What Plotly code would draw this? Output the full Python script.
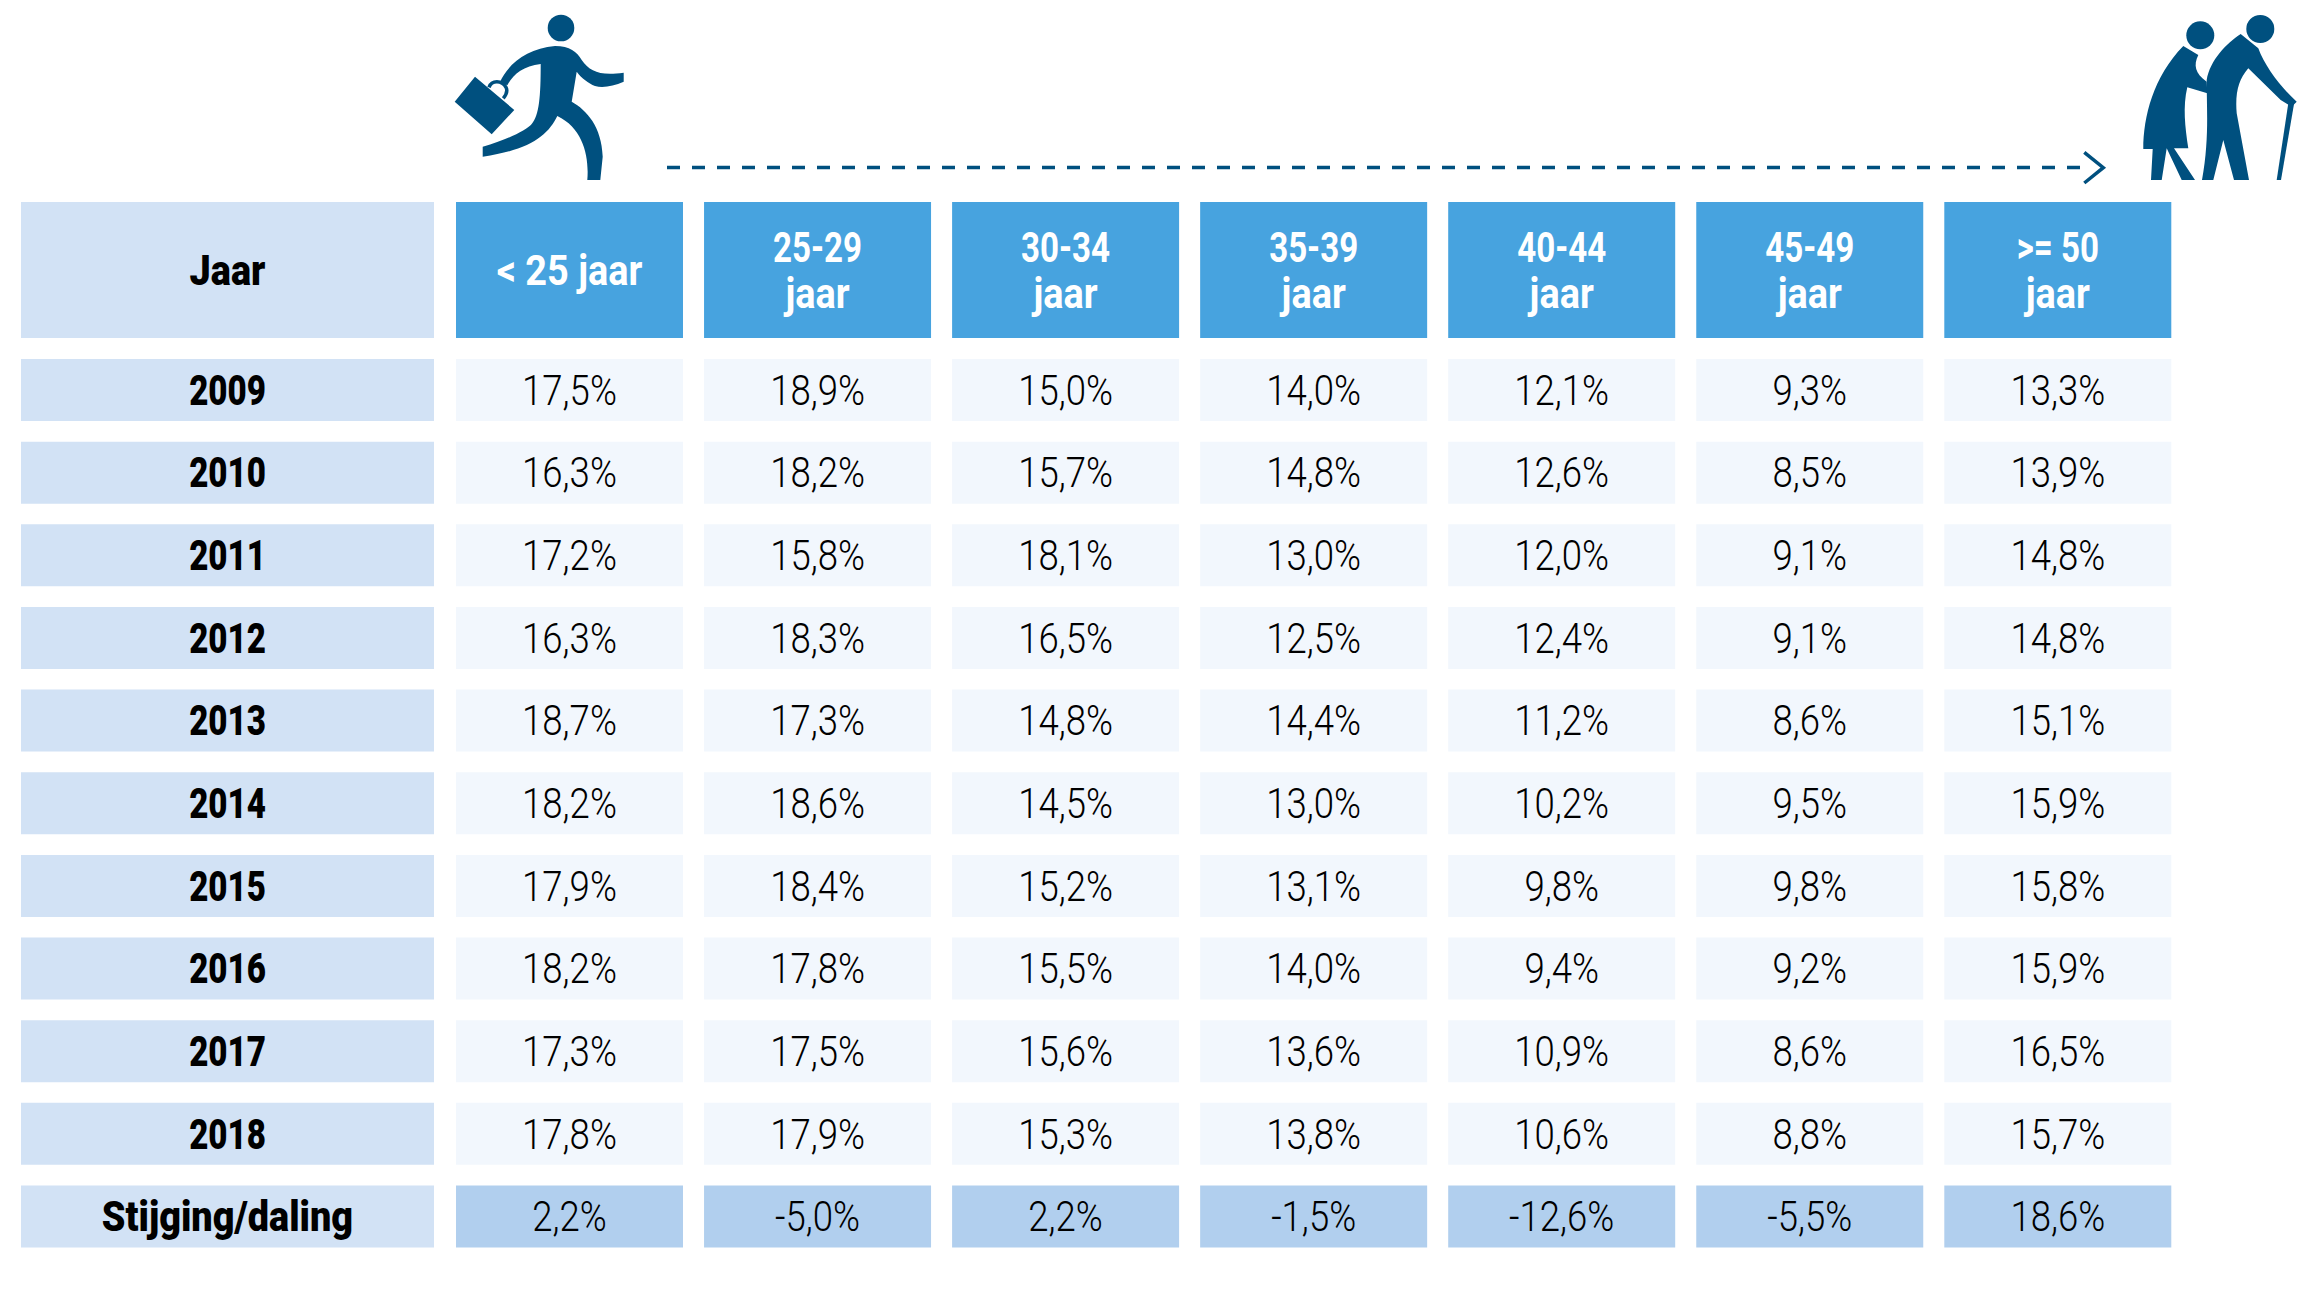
import re
import plotly.graph_objects as go

# table content
age_groups = ["< 25 jaar", "25-29<br>jaar", "30-34<br>jaar", "35-39<br>jaar", "40-44<br>jaar", "45-49<br>jaar", ">= 50<br>jaar"]
years = ["2009", "2010", "2011", "2012", "2013", "2014", "2015", "2016", "2017", "2018"]
under_25 = [17.5, 16.3, 17.2, 16.3, 18.7, 18.2, 17.9, 18.2, 17.3, 17.8]
age_25_29 = [18.9, 18.2, 15.8, 18.3, 17.3, 18.6, 18.4, 17.8, 17.5, 17.9]
age_30_34 = [15.0, 15.7, 18.1, 16.5, 14.8, 14.5, 15.2, 15.5, 15.6, 15.3]
age_35_39 = [14.0, 14.8, 13.0, 12.5, 14.4, 13.0, 13.1, 14.0, 13.6, 13.8]
age_40_44 = [12.1, 12.6, 12.0, 12.4, 11.2, 10.2, 9.8, 9.4, 10.9, 10.6]
age_45_49 = [9.3, 8.5, 9.1, 9.1, 8.6, 9.5, 9.8, 9.2, 8.6, 8.8]
over_50 = [13.3, 13.9, 14.8, 14.8, 15.1, 15.9, 15.8, 15.9, 16.5, 15.7]
change = [2.2, -5.0, 2.2, -1.5, -12.6, -5.5, 18.6]

columns = [under_25, age_25_29, age_30_34, age_35_39, age_40_44, age_45_49, over_50]

W, H = 2308, 1301
PAGE_MARGIN = 8  # browser body margin, the axes below stay in page pixels
NAVY = "#00507f"
LABEL_BG = "#d2e2f5"
HEAD_BG = "#47a3df"
CELL_BG = "#f2f7fd"
CHANGE_BG = "#b1cfee"
FONT = "Roboto"


def pct(v):
    return f"{v:.1f}%".replace(".", ",")


label_x, label_w = 21, 413
col_x0, col_w, col_step = 456, 227, 248.05
head_y, head_h = 202, 136
row_y0, row_h, row_step = 359, 62, 82.65
head_line_gap = 23
text_drop = 4

col_centers = [col_x0 + col_w / 2 + i * col_step for i in range(len(columns))]
label_center = label_x + label_w / 2
row_tops = [row_y0 + i * row_step for i in range(len(years) + 1)]
row_mids = [t + row_h / 2 + text_drop for t in row_tops]
head_mid = head_y + head_h / 2 + text_drop

fig = go.Figure()


def add_cells(xs, tops, width, height, color):
    fig.add_trace(go.Bar(x=xs, y=[height] * len(xs), base=tops, width=width,
                         marker=dict(color=color, line=dict(width=0)), hoverinfo="skip"))


def add_text(xs, ys, texts, color, size, weight):
    fig.add_trace(go.Scatter(x=xs, y=ys, text=texts, mode="text", hoverinfo="skip",
                             textposition="middle center",
                             textfont=dict(family=FONT, size=size, color=color, weight=weight)))


add_cells([label_center], [head_y], label_w, head_h, LABEL_BG)
add_cells([label_center] * len(row_tops), [t for t in row_tops], label_w, row_h, LABEL_BG)
add_cells(col_centers, [head_y] * len(col_centers), col_w, head_h, HEAD_BG)
for cx in col_centers:
    add_cells([cx] * len(years), row_tops[:-1], col_w, row_h, CELL_BG)
add_cells(col_centers, [row_tops[-1]] * len(col_centers), col_w, row_h, CHANGE_BG)

add_text([label_center], [head_mid], ["Jaar"], "#000000", 43, 900)
add_text([label_center] * len(years), row_mids[:-1], years, "#000000", 43, 900)
add_text([label_center], [row_mids[-1]], ["Stijging/daling"], "#000000", 43, 900)

# header cells: split the two line labels so the line gap can be tighter than plotly's
for cx, label in zip(col_centers, age_groups):
    lines = label.split("<br>")
    ys = [head_mid] if len(lines) == 1 else [head_mid - head_line_gap, head_mid + head_line_gap]
    add_text([cx] * len(lines), ys, lines, "#ffffff", 43, 700)

for cx, vals in zip(col_centers, columns):
    add_text([cx] * len(vals), row_mids[:-1], [pct(v) for v in vals], "#000000", 43, 300)
add_text(col_centers, [row_mids[-1]] * len(col_centers), [pct(v) for v in change], "#000000", 43, 300)


def icon_path(d, ox, oy):
    # icon outlines were traced at 3x, bring them back to page pixels
    out = []
    is_x = True
    for tok in re.findall(r"[A-Z]|-?\d+\.?\d*", d):
        if tok.isalpha():
            out.append(tok)
            is_x = True
        else:
            out.append(f"{float(tok) / 3 + (ox if is_x else oy):.1f}")
            is_x = not is_x
    return " ".join(out)


runner = ("M611,218 L611,245 C580,258 550,265 525,258 C505,250 485,235 470,215 L455,305 "
          "C500,330 545,380 548,470 L541,540 L502,540 C508,470 490,385 412,348 "
          "C385,405 330,450 188,470 L188,440 C260,420 320,390 335,372 C358,345 362,290 362,192 "
          "C310,198 280,222 262,256 L240,246 C262,195 320,145 405,138 C450,138 470,155 485,180 "
          "C510,215 540,228 611,218 Z "
          "M165,230 L283,330 L215,403 L104,305 Z")
handle = "M207,262 C215,240 245,240 258,262 C265,275 258,285 250,295"
woman = ("M400,138 L445,165 C430,195 435,220 470,245 L472,280 L412,262 C398,320 405,380 415,445 L372,445 "
         "L435,540 L395,540 L350,445 L335,540 L303,540 L308,447 L280,447 C280,350 310,230 400,138 Z")
man = ("M572,102 L625,145 C645,200 695,265 740,305 L725,320 L692,300 L595,205 C565,240 555,280 560,340 "
       "L597,540 L552,540 L520,420 L490,540 L456,540 C478,420 470,330 470,240 C480,180 530,130 572,102 Z")
cane = "M715,310 L732,312 L693,540 L680,540 Z"
arrow_head = "M103,457 L160,503 L103,549"

shapes = []
for d, ox in [(runner, 420), (woman, 2050), (man, 2050), (cane, 2050)]:
    shapes.append(dict(type="path", path=icon_path(d, ox, 0), fillcolor=NAVY, line=dict(width=0), layer="above"))
shapes.append(dict(type="path", path=icon_path(handle, 420, 0), line=dict(color=NAVY, width=3.5), layer="above"))
shapes.append(dict(type="path", path=icon_path(arrow_head, 2050, 0), line=dict(color=NAVY, width=3.5), layer="above"))
for cx, cy, r in [(561, 28, 13.3), (2200.3, 35.3, 14), (2260.3, 29, 14)]:
    shapes.append(dict(type="circle", x0=cx - r, x1=cx + r, y0=cy - r, y1=cy + r,
                       fillcolor=NAVY, line=dict(width=0), layer="above"))
shapes.append(dict(type="line", x0=667, x1=2092, y0=167.5, y1=167.5, layer="above",
                   line=dict(color=NAVY, width=3.5, dash="13px,12px")))

fig.update_layout(
    width=W - PAGE_MARGIN, height=H - PAGE_MARGIN,
    autosize=False,
    margin=dict(l=0, r=0, t=0, b=0),
    paper_bgcolor="white",
    plot_bgcolor="white",
    barmode="overlay",
    showlegend=False,
    shapes=shapes,
    xaxis=dict(range=[PAGE_MARGIN, W], visible=False, fixedrange=True),
    yaxis=dict(range=[H, PAGE_MARGIN], visible=False, fixedrange=True),
)

# no condensed face is installed, so narrow the text around its own centre
squeeze = """
document.querySelectorAll('.textpoint text').forEach(function (t) {
  var x = parseFloat(t.getAttribute('x'));
  var c = t.textContent;
  var s = c.indexOf('%') >= 0 ? 0.85 : (/[a-z]/i.test(c) ? 0.88 : 0.77);
  t.setAttribute('transform', 'translate(' + x + ',0) scale(' + s + ',1) translate(' + (-x) + ',0)');
});
"""
fig.write_html("out.html", config=dict(displayModeBar=False), post_script=squeeze)
